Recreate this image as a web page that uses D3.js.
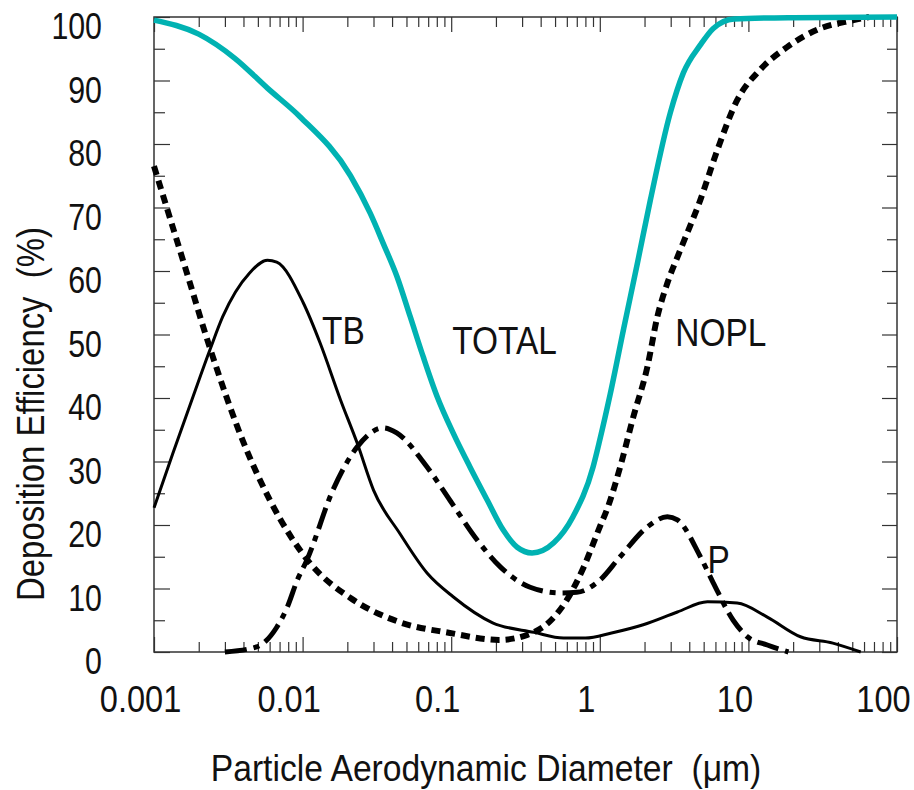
<!DOCTYPE html>
<html>
<head>
<meta charset="utf-8">
<script src="https://cdn.jsdelivr.net/npm/d3@7"></script>
<style>
  body { margin: 0; background: #fff; }
  text { font-family: "Liberation Sans", Arial, sans-serif; fill: #111; }
</style>
</head>
<body>
<div id="chart"></div>
<script>
// values: [diameter um, efficiency %]
const totalData = [[0.001, 99.5], [0.002, 97.3], [0.0035, 93.5], [0.0058, 88.8], [0.0096, 84.3], [0.021, 75], [0.0285, 69.1],
  [0.0348, 64.4], [0.0432, 59.1], [0.053, 52.8], [0.0648, 46.5], [0.0805, 40.2], [0.103, 34.5], [0.134, 29.1], [0.175, 23.9],
  [0.224, 19.2], [0.278, 16.5], [0.35, 15.6], [0.49, 17.2], [0.66, 21.3], [0.9, 29.1], [1.0, 33.4], [1.175, 40.6],
  [1.45, 51], [1.79, 61.2], [2.19, 71.2], [2.98, 84.9], [3.65, 91.2], [4.75, 95.6], [5.8, 98.2], [8, 99.7], [20, 99.9], [100, 100]];
const noplData = [[0.001, 76.5], [0.0016, 61], [0.0024, 47.6], [0.0042, 31.8], [0.006, 24], [0.0112, 14], [0.021, 8.5],
  [0.045, 4.7], [0.098, 3.0], [0.21, 1.9], [0.325, 2.7], [0.47, 5.0], [0.6, 8.2], [0.78, 13.4], [1.0, 19.7], [1.12, 22.5],
  [1.37, 29.1], [1.68, 37], [2.09, 44.9], [2.44, 52.8], [2.85, 58.1], [3.48, 63.3], [4.75, 71.2], [6.17, 79], [8.4, 86.9],
  [12, 91.7], [18.3, 95.3], [29, 98], [51, 99.5], [65, 100]];
const tbData = [[0.001, 22.7], [0.00134, 31.3], [0.00183, 40.2], [0.00238, 47.6], [0.0029, 52.8], [0.0044, 59.7], [0.0058, 61.7],
  [0.0067, 61.4], [0.0101, 55], [0.0131, 48.7], [0.018, 39.7], [0.0233, 32.9], [0.03, 25.5], [0.045, 18.7], [0.069, 12.4],
  [0.103, 8.7], [0.19, 4.6], [0.36, 3.1], [0.57, 2.2], [0.8, 2.2], [1.2, 3.0], [1.96, 4.3], [3.33, 6.3], [5.3, 7.9], [8.4, 7.7],
  [13.4, 5.5], [22.4, 2.4], [37, 1.4], [57, 0]];
const pData = [[0.003, 0], [0.0049, 0.8], [0.0067, 3.9], [0.0079, 7.1], [0.0092, 11.3], [0.0107, 14.5], [0.016, 25.5],
  [0.0233, 32.3], [0.035, 35.3], [0.043, 34.5], [0.069, 29.1], [0.098, 23.9], [0.15, 17.6], [0.214, 13.4], [0.34, 10.2],
  [0.54, 9.3], [0.7, 9.4], [1.0, 11.3], [1.37, 15], [2.09, 19.7], [2.85, 21.3], [3.33, 20.8], [4.75, 15], [5.8, 10.9],
  [7.9, 5], [9.85, 2.4], [13.4, 1.1], [18.6, 0]];

const xMajor = [0.001, 0.01, 0.1, 1, 10, 100];
const xLabels = ['0.001', '0.01', '0.1', '1', '10', '100'];
const yMajor = [0, 10, 20, 30, 40, 50, 60, 70, 80, 90, 100];
const yMinor = [5, 15, 25, 35, 45, 55, 65, 75, 85, 95];

// curve labels: [text, diameter, efficiency]
const curveLabels = [['TB', 0.0135, 48.5], ['TOTAL', 0.1016, 47], ['NOPL', 3.22, 48.2], ['P', 5.3, 12.4]];

const width = 914;
const height = 790;
const margin = { top: 17, right: 17, bottom: 138, left: 154 };
const innerW = width - margin.left - margin.right;
const innerH = height - margin.top - margin.bottom;
const sx = 0.82; // horizontal squeeze to mimic the condensed face

const svg = d3.select('#chart')
  .append('svg')
  .attr('width', width)
  .attr('height', height);

const ctr = svg.append('g')
  .attr('transform', `translate(${margin.left},${margin.top})`);

const x = d3.scaleLog().domain([0.001, 100]).range([0, innerW]);
const y = d3.scaleLinear().domain([0, 100]).range([innerH, 0]);

let xMinor = [];
xMajor.slice(0, -1).forEach((d) => {
  for (let k = 2; k <= 9; k++) xMinor.push(d * k);
});

const styleAxis = (g) => {
  g.selectAll('.tick line').attr('stroke', '#333').attr('stroke-width', 1.2);
};

// minor ticks
ctr.append('g').attr('transform', `translate(0,${innerH})`)
  .call(d3.axisBottom(x).tickValues(xMinor).tickSize(-10).tickFormat(''))
  .call(styleAxis);
ctr.append('g')
  .call(d3.axisTop(x).tickValues(xMinor).tickSize(-10).tickFormat(''))
  .call(styleAxis);
ctr.append('g')
  .call(d3.axisLeft(y).tickValues(yMinor).tickSize(-11).tickFormat(''))
  .call(styleAxis);
ctr.append('g').attr('transform', `translate(${innerW},0)`)
  .call(d3.axisRight(y).tickValues(yMinor).tickSize(-10).tickFormat(''))
  .call(styleAxis);

// major ticks
const xAxis = ctr.append('g').attr('transform', `translate(0,${innerH})`)
  .call(d3.axisBottom(x).tickValues(xMajor).tickSize(-15).tickPadding(0)
    .tickFormat((d, i) => xLabels[i]))
  .call(styleAxis);
xAxis.selectAll('text')
  .attr('x', -14 / 0.88)
  .attr('y', 60)
  .attr('dy', 0)
  .attr('transform', 'scale(0.88,1)')
  .attr('font-size', 37)
  .attr('font-family', null);

ctr.append('g')
  .call(d3.axisTop(x).tickValues(xMajor).tickSize(-15).tickFormat(''))
  .call(styleAxis);

const yAxis = ctr.append('g')
  .call(d3.axisLeft(y).tickValues(yMajor).tickSize(-16).tickPadding(0))
  .call(styleAxis);
yAxis.selectAll('text')
  .attr('x', -52 / sx)
  .attr('dy', 0)
  .attr('y', 21.5)
  .attr('transform', `scale(${sx},1)`)
  .attr('font-size', 37)
  .attr('font-family', null);

ctr.append('g').attr('transform', `translate(${innerW},0)`)
  .call(d3.axisRight(y).tickValues(yMajor).tickSize(-15).tickFormat(''))
  .call(styleAxis);

ctr.selectAll('.domain').remove();
ctr.append('rect')
  .attr('width', innerW)
  .attr('height', innerH)
  .attr('fill', 'none')
  .attr('stroke', '#333')
  .attr('stroke-width', 1.5);

// curves
const line = d3.line()
  .x((d) => x(d[0]))
  .y((d) => y(d[1]))
  .curve(d3.curveMonotoneX);

const curves = ctr.append('g').attr('fill', 'none');

curves.append('path')
  .attr('d', line(tbData))
  .attr('stroke', '#000')
  .attr('stroke-width', 3);

curves.append('path')
  .attr('d', line(noplData))
  .attr('stroke', '#000')
  .attr('stroke-width', 6)
  .attr('stroke-dasharray', '9,6');

curves.append('path')
  .attr('d', line(pData))
  .attr('stroke', '#000')
  .attr('stroke-width', 5)
  .attr('stroke-dasharray', '22,7,6,7');

curves.append('path')
  .attr('d', line(totalData))
  .attr('stroke', '#00b2b2')
  .attr('stroke-width', 5.5)
  .attr('stroke-linejoin', 'round');

ctr.append('g')
  .selectAll('text')
  .data(curveLabels)
  .join('text')
  .attr('transform', (d) => `translate(${x(d[1])},${y(d[2])}) scale(0.88,1)`)
  .attr('font-size', 38)
  .text((d) => d[0]);

// axis titles
svg.append('text')
  .attr('transform', 'translate(486,781) scale(0.935,1)')
  .attr('text-anchor', 'middle')
  .attr('font-size', 36)
  .style('white-space', 'pre')
  .text('Particle Aerodynamic Diameter  (\u03bcm)');

svg.append('text')
  .attr('transform', 'translate(44,414) rotate(-90) scale(0.865,1)')
  .attr('text-anchor', 'middle')
  .attr('font-size', 38)
  .style('white-space', 'pre')
  .text('Deposition Efficiency  (%)');
</script>
</body>
</html>
